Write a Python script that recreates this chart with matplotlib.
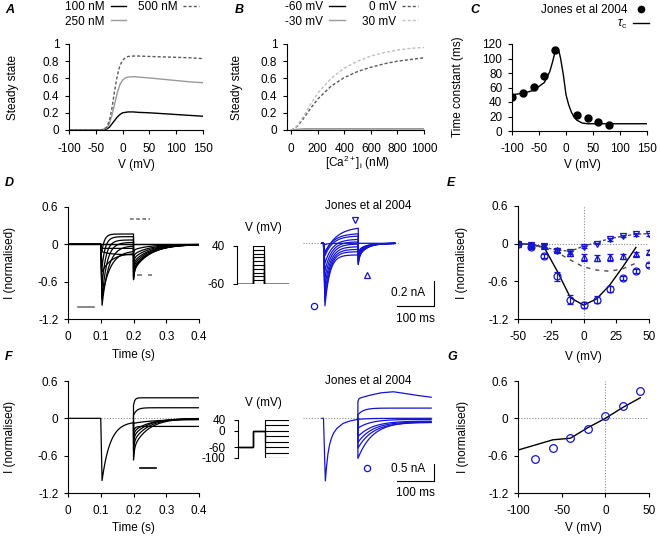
import numpy as np
import matplotlib
matplotlib.use("Agg")
import matplotlib.pyplot as plt
from matplotlib.lines import Line2D

plt.rcParams['font.family'] = ['Liberation Sans', 'DejaVu Sans']
plt.rcParams['font.size'] = 8.5
plt.rcParams['axes.unicode_minus'] = False
plt.rcParams['mathtext.fontset'] = 'custom'
plt.rcParams['mathtext.rm'] = 'Liberation Sans'
plt.rcParams['mathtext.it'] = 'Liberation Sans:italic'
plt.rcParams['axes.linewidth'] = 0.8

BLUE = '#1414d2'

# ---- A: steady state vs V
v_a = [-100, -50, -40, -30, -25, -20, -15, -10, -5, 0, 5, 10, 20, 30, 50, 75, 100, 125, 150]
ss_100 = [0, 0, 0, 0.01, 0.03, 0.07, 0.11, 0.15, 0.18, 0.2, 0.205, 0.21, 0.21, 0.205, 0.2, 0.19, 0.18, 0.17, 0.16]
ss_250 = [0, 0, 0, 0.02, 0.07, 0.17, 0.3, 0.43, 0.53, 0.58, 0.605, 0.615, 0.62, 0.615, 0.605, 0.59, 0.575, 0.56, 0.55]
ss_500 = [0, 0, 0, 0.03, 0.1, 0.25, 0.45, 0.63, 0.75, 0.81, 0.84, 0.855, 0.86, 0.86, 0.855, 0.85, 0.845, 0.84, 0.83]

# ---- B: steady state vs [Ca]
ca_b = [0, 25, 50, 100, 150, 200, 300, 400, 500, 600, 700, 800, 900, 1000]
ss_m60 = [0, 0, 0, 0, 0, 0, 0, 0, 0, 0, 0, 0, 0, 0]
ss_m30 = [0, 0.005, 0.01, 0.015, 0.015, 0.015, 0.015, 0.015, 0.015, 0.015, 0.015, 0.015, 0.015, 0.015]
ss_0 = [0, 0.02, 0.05, 0.15, 0.26, 0.36, 0.51, 0.61, 0.68, 0.73, 0.77, 0.8, 0.82, 0.84]
ss_30 = [0, 0.02, 0.06, 0.18, 0.31, 0.43, 0.6, 0.72, 0.8, 0.86, 0.9, 0.93, 0.95, 0.96]

# ---- C: time constant
v_c_data = [-100, -80, -60, -40, -20, 20, 40, 60, 80]
tau_c_data = [47, 52, 61, 76, 112, 22, 18, 12, 8]
v_c_fit = [-100, -80, -60, -40, -30, -25, -20, -17, -13, -10, -5, 0, 5, 10, 15, 20, 30, 40, 60, 100, 150]
tau_c_fit = [50, 52, 56, 67, 82, 95, 110, 113, 110, 100, 78, 50, 36, 26, 19, 15, 11, 10, 10, 10, 10]

# ---- D: model traces (step from -60 mV to V)
v_d = [-60, -50, -40, -30, -20, -10, 0, 10, 20, 30, 40]
peak_d = [0, 0, -0.065, -0.12, -0.44, -0.86, -0.98, -0.88, -0.66, -0.37, -0.1]
end_d = [0, 0, -0.065, -0.17, -0.14, -0.1, -0.02, 0.032, 0.07, 0.123, 0.166]
tau_d = [20, 20, 20, 30, 30, 25, 20, 15, 12, 10, 8]          # ms
tail_d = [0, 0, -0.12, -0.22, -0.3, -0.38, -0.44, -0.5, -0.53, -0.55, -0.57]

# ---- D: Jones et al 2004 traces (ms, nA)
jd_peak = [-0.01, -0.5, -0.46, -0.4, -0.34, -0.28, -0.22, -0.16, -0.1, -0.07, -0.08]
jd_end = [0, -0.093, -0.067, -0.048, -0.027, -0.005, 0.013, 0.033, 0.06, 0.08, 0.133]
jd_tau = [10, 13, 14, 15, 16, 17, 18, 20, 22, 25, 32]
jd_tail = [0, -0.17, -0.16, -0.15, -0.14, -0.13, -0.12, -0.11, -0.1, -0.09, -0.08]

# ---- E: I-V
v_e = [-50, -40, -30, -20, -10, 0, 10, 20, 30, 40, 50]
peak_e = [0, -0.06, -0.2, -0.52, -0.89, -0.98, -0.89, -0.72, -0.55, -0.44, -0.34]
peak_err = [0.02, 0.02, 0.03, 0.07, 0.07, 0.05, 0.05, 0.05, 0.03, 0.03, 0.03]
tail_e = [0, -0.02, -0.04, -0.1, -0.15, -0.22, -0.23, -0.22, -0.2, -0.16, -0.13]
tail_err = [0.02, 0.03, 0.03, 0.03, 0.04, 0.05, 0.05, 0.05, 0.04, 0.03, 0.03]
ss_e = [0, -0.02, -0.04, -0.11, -0.14, -0.05, 0.0, 0.07, 0.12, 0.15, 0.15]
ss_err = [0.01, 0.02, 0.02, 0.02, 0.03, 0.02, 0.01, 0.02, 0.02, 0.02, 0.02]
v_e_model = [-50, -40, -30, -20, -10, 0, 10, 20, 30, 40]
peak_model = [0, -0.01, -0.06, -0.44, -0.86, -0.98, -0.88, -0.66, -0.37, -0.06]
tail_model = [0, -0.01, -0.07, -0.14, -0.26, -0.37, -0.42, -0.44, -0.4, -0.31]
v_e_ss = [-50, -40, -30, -20, -10, 0, 10, 20, 30, 40, 50]
ss_model = [0, -0.01, -0.06, -0.1, -0.12, -0.04, 0.02, 0.08, 0.12, 0.15, 0.16]

# ---- F: model (step to 0 mV, then to V)
f_peak, f_end, f_tau = -1.0, -0.05, 25
v_f = [40, 20, 0, -20, -40, -60, -80, -100]
f_tail_start = [0.21, 0.05, -0.08, -0.2, -0.3, -0.4, -0.52, -0.67]
f_tail_end = [0.33, 0.17, -0.02, -0.13, -0.01, 0, 0, 0]
f_tail_tau = [4, 10, 60, 5, 45, 45, 45, 45]
f_tail_fast = [0, 0, 0, 0, 0.3, 0.3, 0.3, 0.3]

# ---- F: Jones et al 2004 traces (ms, nA)
jf_step_t = [0, 4, 9, 12, 16, 20, 25, 31, 40, 57, 75, 97]
jf_step_i = [0, 0, -1.84, -1.45, -1.05, -0.8, -0.6, -0.44, -0.3, -0.15, -0.08, -0.03]
jf_top_t = [97, 100, 110, 130, 160, 193, 230, 260, 295]
jf_top_i = [0.49, 0.58, 0.62, 0.68, 0.75, 0.78, 0.72, 0.67, 0.62]
jf_start = [0.1, -0.03, -0.29, -0.54, -0.71, -0.88, -1.18]
jf_end = [0.3, 0.0, -0.03, -0.08, -0.1, -0.12, -0.1]
jf_tau = [15, 30, 35, 40, 40, 40, 40]

# ---- G: tail I-V
v_g = [-80, -60, -40, -20, 0, 20, 40]
i_g = [-0.66, -0.48, -0.31, -0.175, 0.03, 0.2, 0.44]
v_g_model = [-100, -60, -40, -20, 0, 20, 40]
i_g_model = [-0.51, -0.345, -0.32, -0.15, 0, 0.175, 0.33]

# protocol levels
prot_d = [-60, -50, -40, -30, -20, -10, 0, 10, 20, 30, 40]
prot_f = [40, 20, 0, -20, -40, -60, -80, -100]

W, H = 661, 539
fig = plt.figure(figsize=(W / 100, H / 100), dpi=100)


def add_ax(l, t, r, b):
    return fig.add_axes([l / W, 1 - b / H, (r - l) / W, (b - t) / H])


def style(ax):
    for s in ['top', 'right']:
        ax.spines[s].set_visible(False)
    ax.tick_params(direction='out', length=3, width=0.8)
    ax.tick_params(axis='x', pad=6)
    ax.tick_params(axis='y', pad=4)


def labels(ax, xl, xc, xy, yl, yx, yc):
    ax.set_xlabel(xl, va='center', ha='center')
    ax.xaxis.set_label_coords(xc / W, 1 - xy / H, transform=fig.transFigure)
    ax.set_ylabel(yl, va='center', ha='center')
    ax.yaxis.set_label_coords(yx / W, 1 - yc / H, transform=fig.transFigure)


def relax(t, t0, a, b, tau):
    return b + (a - b) * np.exp(-(t - t0) / tau)


def panel_label(x, y, s):
    fig.text(x / W, 1 - y / H, s, fontweight='bold', style='italic', fontsize=9,
             ha='left', va='center')


IV_YT = [-1.2, -0.6, 0, 0.6]
IV_YL = ['-1.2', '-0.6', '0', '0.6']

# ================= A
axA = add_ax(69, 44, 203, 130)
style(axA)
axA.plot(v_a, ss_100, color='k', lw=1)
axA.plot(v_a, ss_250, color='0.6', lw=1)
axA.plot(v_a, ss_500, color='0.35', lw=1, dashes=(2.2, 1.5))
axA.set_xlim(-100, 150)
axA.set_ylim(0, 1)
axA.set_xticks([-100, -50, 0, 50, 100, 150])
axA.set_yticks([0, 0.2, 0.4, 0.6, 0.8, 1])
axA.set_yticklabels(['0', '0.2', '0.4', '0.6', '0.8', '1'])
labels(axA, 'V (mV)', 136, 165, 'Steady state', 13, 87)
hA = [Line2D([], [], color='k', lw=1), Line2D([], [], color='0.6', lw=1),
      Line2D([], [], color='0.35', lw=1, dashes=(2.2, 1.5))]
fig.legend(hA, ['100 nM', '250 nM', '500 nM'], ncol=2, markerfirst=False, frameon=False,
           loc='upper left', bbox_to_anchor=(64 / W, 1 - 0 / H), borderaxespad=0, borderpad=0.1,
           handlelength=1.3, handletextpad=0.5, columnspacing=1.0, labelspacing=0.2)

# ================= B
axB = add_ax(287, 44, 424, 130)
style(axB)
axB.plot(ca_b, ss_m60, color='k', lw=1)
axB.plot(ca_b, ss_m30, color='0.6', lw=1)
axB.plot(ca_b, ss_0, color='0.35', lw=1, dashes=(2.2, 1.5))
axB.plot(ca_b, ss_30, color='0.75', lw=1, dashes=(2.2, 1.5))
axB.set_xlim(-32, 1000)
axB.set_ylim(0, 1)
axB.set_xticks([0, 200, 400, 600, 800, 1000])
axB.set_yticks([0, 0.2, 0.4, 0.6, 0.8, 1])
axB.set_yticklabels(['0', '0.2', '0.4', '0.6', '0.8', '1'])
labels(axB, r'[Ca$^{2+}$]$_\mathrm{i}$ (nM)', 358, 163, 'Steady state', 237, 87)
hB = [Line2D([], [], color='k', lw=1), Line2D([], [], color='0.6', lw=1),
      Line2D([], [], color='0.35', lw=1, dashes=(2.2, 1.5)),
      Line2D([], [], color='0.75', lw=1, dashes=(2.2, 1.5))]
fig.legend(hB, ['-60 mV', '-30 mV', '0 mV', '30 mV'], ncol=2, markerfirst=False, frameon=False,
           loc='upper left', bbox_to_anchor=(284 / W, 1 - 0 / H), borderaxespad=0, borderpad=0.1,
           handlelength=1.3, handletextpad=0.5, columnspacing=1.5, labelspacing=0.2)

# ================= C
axC = add_ax(512, 44, 647, 131)
style(axC)
axC.plot(v_c_fit, tau_c_fit, color='k', lw=1)
axC.plot(v_c_data, tau_c_data, 'o', color='k', ms=5)
axC.set_xlim(-100, 150)
axC.set_ylim(0, 120)
axC.set_xticks([-100, -50, 0, 50, 100, 150])
axC.set_yticks([0, 20, 40, 60, 80, 100, 120])
labels(axC, 'V (mV)', 582, 165, 'Time constant (ms)', 458, 87)
hC = [Line2D([], [], ls='none', marker='o', color='k', ms=4.5), Line2D([], [], color='k', lw=1)]
fig.legend(hC, ['Jones et al 2004', r'$\tau_\mathrm{c}$'], markerfirst=False, frameon=False,
           loc='upper right', bbox_to_anchor=(650 / W, 1 - 3 / H), borderaxespad=0, borderpad=0.1,
           handlelength=1.3, handletextpad=0.5, labelspacing=0.15)

# ================= D model
axD = add_ax(68, 207, 199, 319)
style(axD)
t_step = np.linspace(0.104, 0.2, 200)
t_tail = np.linspace(0.2, 0.4, 300)
for pk, en, tau, tl in zip(peak_d, end_d, tau_d, tail_d):
    step_i = relax(t_step, 0.104, pk, en, tau / 1000)
    dt = t_tail - 0.2
    tail_i = tl * (0.26 * np.exp(-dt / 0.003) + 0.74 * np.exp(-dt / 0.05))
    t = np.concatenate([[0, 0.1], t_step, t_tail])
    y = np.concatenate([[0, 0], step_i, tail_i])
    axD.plot(t, y, color='k', lw=0.9)
axD.plot([0.03, 0.08], [-1.0, -1.0], color='0.45', lw=1.2)
axD.plot([0.19, 0.25], [0.4, 0.4], color='0.45', lw=1.2, dashes=(2.2, 1.5))
axD.plot([0.21, 0.255], [-0.5, -0.5], color='0.45', lw=1.2, dashes=(3, 3.6))
axD.set_xlim(0, 0.4)
axD.set_ylim(-1.2, 0.6)
axD.set_xticks([0, 0.1, 0.2, 0.3, 0.4])
axD.set_xticklabels(['0', '0.1', '0.2', '0.3', '0.4'])
axD.set_yticks(IV_YT)
axD.set_yticklabels(IV_YL)
labels(axD, 'Time (s)', 133, 355, 'I (normalised)', 10, 263)

# D protocol
axDp = add_ax(237, 246, 289, 284)
for v in prot_d:
    axDp.plot([0, 0.12, 0.12, 0.21, 0.21, 0.4], [-60, -60, v, v, -60, -60], color='k', lw=0.8)
axDp.set_xlim(0, 0.4)
axDp.set_ylim(-60, 40)
for s in ['top', 'right', 'bottom']:
    axDp.spines[s].set_visible(False)
axDp.set_xticks([])
axDp.set_yticks([-60, 40])
axDp.tick_params(direction='out', length=3, width=0.8, pad=6)
fig.text(263 / W, 1 - 228 / H, 'V (mV)', ha='center', va='center')

# D Jones data
axDj = add_ax(300, 196, 440, 330)
axDj.axis('off')
axDj.set_xlim((300 - 322) / 0.37, (440 - 322) / 0.37)
axDj.set_ylim((243.3 - 330) / 125, (243.3 - 196) / 125)
axDj.plot([-51, 211], [0, 0], color='0.55', lw=0.8, ls=(0, (1, 1.5)))
ts = np.linspace(8, 98, 150)
tt = np.linspace(98, 197, 150)
for pk, en, tau, tl in zip(jd_peak, jd_end, jd_tau, jd_tail):
    step_i = relax(ts, 8, pk, en, tau)
    dt = tt - 98
    tail_i = tl * (0.35 * np.exp(-dt / 3) + 0.65 * np.exp(-dt / 22))
    axDj.plot(np.concatenate([[0, 4], ts, tt]), np.concatenate([[0, 0], step_i, tail_i]),
              color=BLUE, lw=0.9)
axDj.plot([-22], [-0.5], 'o', color=BLUE, mfc='none', ms=4.5, mew=0.9)
axDj.plot([89], [0.19], 'v', color=BLUE, mfc='none', ms=4.5, mew=0.9)
axDj.plot([122], [-0.25], '^', color=BLUE, mfc='none', ms=4.5, mew=0.9)
axDj.plot([202.7, 302.7, 302.7], [-0.5, -0.5, -0.3], color='k', lw=0.8)
axDj.text(278, -0.398, '0.2 nA', ha='right', va='center')
axDj.text(252.7, -0.606, '100 ms', ha='center', va='center')
fig.text(368 / W, 1 - 206 / H, 'Jones et al 2004', ha='center', va='center')

# ================= E
axE = add_ax(518, 206, 649, 319)
style(axE)
axE.axhline(0, color='0.55', lw=0.8, ls=(0, (1, 1.5)))
axE.axvline(0, color='0.55', lw=0.8, ls=(0, (1, 1.5)))
axE.plot(v_e_model, peak_model, color='k', lw=1)
axE.plot(v_e_ss, ss_model, color='0.3', lw=1, dashes=(2.2, 1.5))
axE.plot(v_e_model, tail_model, color='0.3', lw=1, dashes=(3, 3.6))
ekw = dict(color=BLUE, mfc='none', ms=5, mew=0.9, elinewidth=0.9, capsize=2, capthick=0.9, ls='none')
axE.errorbar(v_e, peak_e, yerr=peak_err, fmt='o', **ekw)
axE.errorbar(v_e, tail_e, yerr=tail_err, fmt='^', **ekw)
axE.errorbar(v_e, ss_e, yerr=ss_err, fmt='v', **ekw)
axE.set_xlim(-50, 50)
axE.set_ylim(-1.2, 0.6)
axE.set_xticks([-50, -25, 0, 25, 50])
axE.set_yticks(IV_YT)
axE.set_yticklabels(IV_YL)
for sp in axE.spines.values():
    sp.set_zorder(5)
labels(axE, 'V (mV)', 583, 357, 'I (normalised)', 462, 263)

# ================= F model
axF = add_ax(68, 381, 199, 493)
style(axF)
axF.plot([0.1, 0.4], [0, 0], color='0.55', lw=0.8, ls=(0, (1, 1.5)))
ts_f = np.linspace(0.104, 0.2, 200)
axF.plot(np.concatenate([[0, 0.1], ts_f]),
         np.concatenate([[0, 0], relax(ts_f, 0.104, f_peak, f_end, f_tau / 1000)]), color='k', lw=0.9)
start_val = relax(0.2, 0.104, f_peak, f_end, f_tau / 1000)
tt_f = np.linspace(0.2, 0.4, 300)
for a, b, tau, ff in zip(f_tail_start, f_tail_end, f_tail_tau, f_tail_fast):
    dt = tt_f - 0.2
    y = b + (a - b) * (ff * np.exp(-dt / 0.003) + (1 - ff) * np.exp(-dt / (tau / 1000)))
    axF.plot(np.concatenate([[0.2], tt_f]), np.concatenate([[start_val], y]), color='k', lw=0.9)
axF.plot([0.22, 0.27], [-0.8, -0.8], color='k', lw=1.2)
axF.set_xlim(0, 0.4)
axF.set_ylim(-1.2, 0.6)
axF.set_xticks([0, 0.1, 0.2, 0.3, 0.4])
axF.set_xticklabels(['0', '0.1', '0.2', '0.3', '0.4'])
axF.set_yticks(IV_YT)
axF.set_yticklabels(IV_YL)
labels(axF, 'Time (s)', 133, 528, 'I (normalised)', 10, 437)

# F protocol
axFp = add_ax(238, 420, 289, 458)
for v in prot_f:
    axFp.plot([0, 0.12, 0.12, 0.21, 0.21, 0.4], [-60, -60, 0, 0, v, v], color='k', lw=0.8)
axFp.set_xlim(0, 0.4)
axFp.set_ylim(-100, 40)
for s in ['top', 'right', 'bottom']:
    axFp.spines[s].set_visible(False)
axFp.set_xticks([])
axFp.set_yticks([-100, -60, 0, 40])
axFp.tick_params(direction='out', length=3, width=0.8, pad=6)
fig.text(263 / W, 1 - 403 / H, 'V (mV)', ha='center', va='center')

# F Jones data
axFj = add_ax(300, 370, 440, 500)
axFj.axis('off')
axFj.set_xlim((300 - 322) / 0.37, (440 - 322) / 0.37)
axFj.set_ylim((418.3 - 500) / 34, (418.3 - 370) / 34)
axFj.plot([-51, 300], [0, 0], color='0.55', lw=0.8, ls=(0, (1, 1.5)))
axFj.plot(jf_step_t, jf_step_i, color=BLUE, lw=0.9)
axFj.plot([97] + jf_top_t, [jf_step_i[-1]] + jf_top_i, color=BLUE, lw=0.9)
ttj = np.linspace(97, 295, 200)
for a, b, tau in zip(jf_start, jf_end, jf_tau):
    axFj.plot(np.concatenate([[97], ttj]),
              np.concatenate([[jf_step_i[-1]], relax(ttj, 97, a, b, tau)]), color=BLUE, lw=0.9)
axFj.plot([122], [-1.46], 'o', color=BLUE, mfc='none', ms=4.5, mew=0.9)
axFj.plot([202.7, 302.7, 302.7], [-1.844, -1.844, -1.344], color='k', lw=0.8)
axFj.text(278, -1.5, '0.5 nA', ha='right', va='center')
axFj.text(252.7, -2.19, '100 ms', ha='center', va='center')
fig.text(368 / W, 1 - 381 / H, 'Jones et al 2004', ha='center', va='center')

# ================= G
axG = add_ax(518, 381, 649, 493)
style(axG)
axG.axhline(0, color='0.55', lw=0.8, ls=(0, (1, 1.5)))
axG.axvline(0, color='0.55', lw=0.8, ls=(0, (1, 1.5)))
axG.plot(v_g_model, i_g_model, color='k', lw=1)
axG.plot(v_g, i_g, 'o', color=BLUE, mfc='none', ms=5.5, mew=0.9)
axG.set_xlim(-100, 50)
axG.set_ylim(-1.2, 0.6)
axG.set_xticks([-100, -50, 0, 50])
axG.set_yticks(IV_YT)
axG.set_yticklabels(IV_YL)
labels(axG, 'V (mV)', 583, 528, 'I (normalised)', 463, 437)

panel_label(5, 10, 'A')
panel_label(235, 10, 'B')
panel_label(470, 10, 'C')
panel_label(5, 183, 'D')
panel_label(447, 183, 'E')
panel_label(5, 357, 'F')
panel_label(447, 357, 'G')

fig.savefig('out.png', dpi=100)
